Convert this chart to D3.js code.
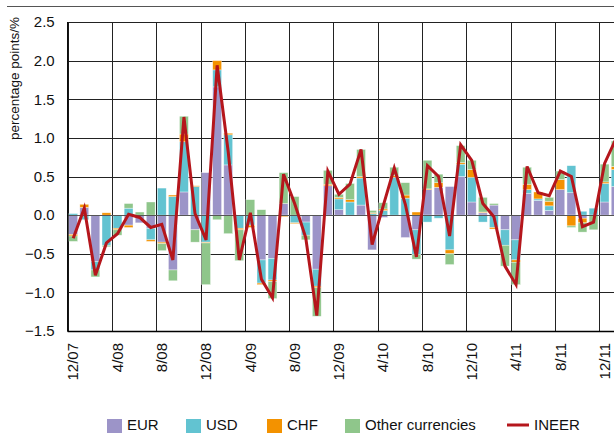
<!DOCTYPE html>
<html>
<head>
<meta charset="utf-8">
<script src="https://cdn.jsdelivr.net/npm/d3@7"></script>
<style>
  body { margin: 0; background: #fff; }
  svg { display: block; font-family: "Liberation Sans Narrow", "Liberation Sans", sans-serif; }
</style>
</head>
<body>
<svg id="chart" width="614" height="434"></svg>
<script>
const months = [
  "12/07", "1/08", "2/08", "3/08", "4/08", "5/08", "6/08", "7/08", "8/08", "9/08", "10/08", "11/08",
  "12/08", "1/09", "2/09", "3/09", "4/09", "5/09", "6/09", "7/09", "8/09", "9/09", "10/09", "11/09",
  "12/09", "1/10", "2/10", "3/10", "4/10", "5/10", "6/10", "7/10", "8/10", "9/10", "10/10", "11/10",
  "12/10", "1/11", "2/11", "3/11", "4/11", "5/11", "6/11", "7/11", "8/11", "9/11", "10/11", "11/11",
  "12/11", "1/12"
];

const tickMonths = ["12/07", "4/08", "8/08", "12/08", "4/09", "8/09", "12/09", "4/10", "8/10", "12/10", "4/11", "8/11", "12/11"];

const yTicks = [-1.5, -1.0, -0.5, 0.0, 0.5, 1.0, 1.5, 2.0, 2.5];

const eur = [
  -0.25, 0.10, -0.60, 0.00, 0.00, -0.13, -0.10, -0.17, -0.35, -0.71, 0.30, -0.19,
  0.55, 1.66, 0.65, 0.00, 0.00, -0.58, -0.56, 0.15, 0.00, -0.09, -0.70, 0.38,
  0.07, 0.00, 0.13, -0.45, -0.03, 0.00, -0.29, -0.19, 0.33, 0.36, 0.37, 0.50,
  0.17, 0.03, 0.13, -0.19, -0.32, 0.28, 0.19, 0.06, 0.33, 0.29, -0.04, 0.00,
  0.17, 0.37
];
const usd = [
  0.02, -0.06, -0.11, -0.39, -0.17, 0.09, 0.00, -0.15, 0.35, 0.24, 0.65, 0.37,
  -0.35, 0.22, 0.39, -0.17, -0.13, -0.30, -0.28, 0.00, -0.10, -0.17, -0.22, 0.00,
  0.14, 0.17, 0.35, 0.02, 0.06, 0.49, 0.22, -0.32, -0.09, -0.04, -0.45, 0.16,
  0.32, -0.09, -0.16, -0.20, -0.26, 0.05, 0.02, 0.06, 0.00, 0.35, 0.05, 0.09,
  0.24, 0.22
];
const chf = [
  -0.02, 0.04, 0.00, 0.03, -0.02, -0.03, 0.00, -0.02, -0.02, 0.02, 0.10, 0.01,
  -0.01, 0.12, 0.02, -0.02, -0.03, -0.02, -0.02, -0.02, -0.01, 0.00, -0.02, 0.02,
  0.02, 0.03, 0.02, 0.01, 0.02, 0.02, 0.04, 0.04, 0.01, 0.06, -0.05, 0.02,
  0.10, 0.01, -0.02, 0.00, -0.03, 0.07, 0.09, 0.06, 0.13, -0.14, -0.06, 0.00,
  0.02, 0.04
];
const other = [
  -0.07, 0.00, -0.09, -0.02, -0.07, 0.06, 0.04, 0.17, -0.09, -0.14, 0.23, -0.16,
  -0.54, -0.06, -0.24, -0.40, 0.20, 0.07, -0.22, 0.40, 0.24, -0.06, -0.37, 0.18,
  0.04, 0.21, 0.35, 0.03, 0.08, 0.11, 0.16, -0.06, 0.37, 0.11, -0.14, 0.22,
  0.12, 0.19, 0.02, -0.27, -0.29, 0.22, 0.00, 0.05, 0.11, -0.02, -0.12, -0.19,
  0.23, 0.33
];
const ineer = [
  -0.30, 0.09, -0.78, -0.36, -0.24, 0.01, -0.03, -0.16, -0.12, -0.58, 1.27, 0.02,
  -0.32, 1.94, 0.82, -0.58, 0.03, -0.83, -1.07, 0.53, 0.15, -0.29, -1.30, 0.57,
  0.27, 0.40, 0.85, -0.38, 0.12, 0.61, 0.14, -0.54, 0.64, 0.50, -0.27, 0.91,
  0.71, 0.15, -0.02, -0.66, -0.90, 0.63, 0.29, 0.25, 0.57, 0.50, -0.15, -0.09,
  0.67, 0.98
];

const seriesKeys = ["EUR", "USD", "CHF", "Other currencies"];
const seriesValues = [eur, usd, chf, other];
const colorMap = {
  "EUR": "#9c94c8",
  "USD": "#62c3d1",
  "CHF": "#f39200",
  "Other currencies": "#8fc68b",
};
const lineColor = "#b5161c";

const svg = d3.select('#chart');
const plot = { left: 67.7, top: 22, bottom: 331, step: 11.07 };

const rows = months.map((m, i) => {
  const row = { month: m };
  seriesKeys.forEach((k, j) => { row[k] = seriesValues[j][i]; });
  return row;
});

const xScale = d3.scaleBand()
  .domain(months)
  .range([plot.left, plot.left + plot.step * months.length])
  .paddingInner(0.2)
  .paddingOuter(0.1);

const yScale = d3.scaleLinear()
  .domain([-1.5, 2.5])
  .range([plot.bottom, plot.top]);

// top rule
svg.append('line')
  .attr('x1', 7).attr('x2', 614)
  .attr('y1', 6.5).attr('y2', 6.5)
  .attr('stroke', '#555').attr('stroke-width', 1.2);

// grid
const grid = svg.append('g');
grid.selectAll('line.h').data(yTicks)
  .join('line')
  .attr('class', 'h')
  .attr('x1', plot.left).attr('x2', 614)
  .attr('y1', d => Math.round(yScale(d)) + 0.5)
  .attr('y2', d => Math.round(yScale(d)) + 0.5)
  .attr('stroke', '#222').attr('stroke-width', 1);

grid.selectAll('line.v').data(tickMonths)
  .join('line')
  .attr('class', 'v')
  .attr('x1', d => Math.round(xScale(d) - xScale.step() * 0.1) + 0.5)
  .attr('x2', d => Math.round(xScale(d) - xScale.step() * 0.1) + 0.5)
  .attr('y1', plot.top).attr('y2', plot.bottom)
  .attr('stroke', '#222').attr('stroke-width', 1);

// stacked bars
const stack = d3.stack()
  .keys(seriesKeys)
  .offset(d3.stackOffsetDiverging);
const series = stack(rows);

svg.append('g')
  .selectAll('g')
  .data(series)
  .join('g')
  .attr('fill', d => colorMap[d.key])
  .selectAll('rect')
  .data(d => d)
  .join('rect')
  .attr('x', d => xScale(d.data.month))
  .attr('width', xScale.bandwidth())
  .attr('y', d => yScale(Math.max(d[0], d[1])))
  .attr('height', d => Math.abs(yScale(d[0]) - yScale(d[1])))
  .attr('stroke', 'rgba(255,255,255,0.6)')
  .attr('stroke-width', 0.6);

// zero line over bars
svg.append('line')
  .attr('x1', plot.left).attr('x2', 614)
  .attr('y1', Math.round(yScale(0)) + 0.5).attr('y2', Math.round(yScale(0)) + 0.5)
  .attr('stroke', '#555').attr('stroke-width', 1);

// INEER line
const line = d3.line()
  .x((d, i) => xScale(months[i]) + xScale.bandwidth() / 2)
  .y(d => yScale(d));

svg.append('path')
  .datum(ineer)
  .attr('d', line)
  .attr('fill', 'none')
  .attr('stroke', lineColor)
  .attr('stroke-width', 3)
  .attr('stroke-linejoin', 'miter');

// axes frame
svg.append('line')
  .attr('x1', plot.left).attr('x2', plot.left)
  .attr('y1', plot.top).attr('y2', plot.bottom + 0.5)
  .attr('stroke', '#000').attr('stroke-width', 1.3);
svg.append('line')
  .attr('x1', plot.left).attr('x2', 614)
  .attr('y1', plot.bottom + 0.5).attr('y2', plot.bottom + 0.5)
  .attr('stroke', '#000').attr('stroke-width', 1.3);

// y axis labels
const yAxis = d3.axisLeft(yScale)
  .tickValues(yTicks)
  .tickFormat(d3.format('.1f'))
  .tickSize(0)
  .tickPadding(13);

svg.append('g')
  .attr('transform', `translate(${plot.left},0)`)
  .call(yAxis)
  .call(g => g.select('.domain').remove())
  .selectAll('text')
  .attr('font-family', null)
  .attr('font-size', 15)
  .attr('fill', '#111');

// x axis labels
const xAxis = d3.axisBottom(xScale)
  .tickValues(tickMonths)
  .tickSize(0);

svg.append('g')
  .attr('transform', `translate(0,${plot.bottom})`)
  .call(xAxis)
  .call(g => g.select('.domain').remove())
  .selectAll('text')
  .attr('font-family', null)
  .attr('font-size', 15)
  .attr('fill', '#111')
  .attr('text-anchor', 'end')
  .attr('transform', 'rotate(-90)')
  .attr('x', -12)
  .attr('y', 0)
  .attr('dy', '0.35em')
  .attr('dx', 0);

// y title
svg.append('text')
  .attr('transform', 'translate(19,17) rotate(-90)')
  .attr('text-anchor', 'end')
  .attr('font-size', 13.5)
  .attr('fill', '#111')
  .text('percentage points/%');

// legend
const legendItems = [
  { key: "EUR", x: 107 },
  { key: "USD", x: 186 },
  { key: "CHF", x: 267 },
  { key: "Other currencies", x: 345 },
];
const legend = svg.append('g');
legendItems.forEach(item => {
  legend.append('rect')
    .attr('x', item.x).attr('y', 419)
    .attr('width', 15).attr('height', 14)
    .attr('fill', colorMap[item.key]);
  legend.append('text')
    .attr('x', item.x + 20).attr('y', 430)
    .attr('font-size', 15)
    .attr('fill', '#111')
    .text(item.key);
});
legend.append('line')
  .attr('x1', 507).attr('x2', 529)
  .attr('y1', 425).attr('y2', 425)
  .attr('stroke', lineColor).attr('stroke-width', 3);
legend.append('text')
  .attr('x', 534).attr('y', 430)
  .attr('font-size', 15)
  .attr('fill', '#111')
  .text('INEER');
</script>
</body>
</html>
